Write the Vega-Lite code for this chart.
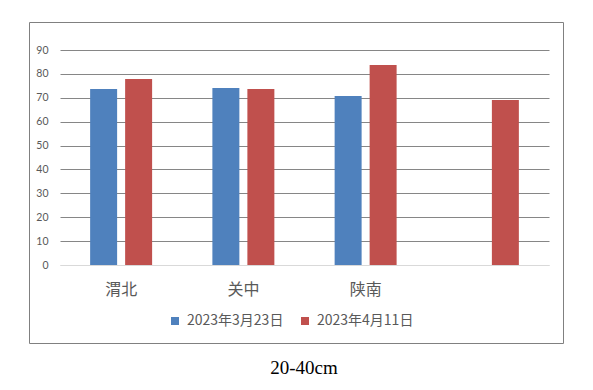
{
  "$schema": "https://vega.github.io/schema/vega-lite/v6.json",
  "autosize": {"type": "none"},
  "padding": {"left": 29, "top": 22, "right": 30, "bottom": 47},
  "width": 534,
  "height": 321,
  "background": "white",
  "config": {
    "view": {"stroke": "#808080", "strokeWidth": 1},
    "font": "Noto Sans CJK SC"
  },
  "title": {
    "text": "20-40cm",
    "orient": "bottom",
    "font": "Liberation Serif",
    "fontSize": 19,
    "fontWeight": "normal",
    "color": "#000000",
    "offset": 16,
    "dx": 8
  },
  "data": {
    "values": [
      {"region": "渭北", "date": "2023年3月23日", "value": 73.7},
      {"region": "渭北", "date": "2023年4月11日", "value": 77.9},
      {"region": "关中", "date": "2023年3月23日", "value": 74.1},
      {"region": "关中", "date": "2023年4月11日", "value": 73.7},
      {"region": "陕南", "date": "2023年3月23日", "value": 70.7},
      {"region": "陕南", "date": "2023年4月11日", "value": 83.7},
      {"region": " ", "date": "2023年4月11日", "value": 69.1}
    ]
  },
  "mark": {"type": "bar"},
  "encoding": {
    "x": {
      "field": "region",
      "type": "nominal",
      "sort": ["渭北", "关中", "陕南", " "],
      "scale": {"range": [31, 520], "paddingInner": 0.493, "paddingOuter": 0.2465},
      "axis": {
        "title": null,
        "orient": "bottom",
        "offset": -78,
        "ticks": false,
        "domain": true,
        "domainColor": "#D9D9D9",
        "labelAngle": 0,
        "labelFontSize": 16,
        "labelColor": "#595959",
        "labelFont": "Noto Sans CJK SC",
        "labelPadding": 16,
        "grid": false
      }
    },
    "xOffset": {
      "field": "date",
      "type": "nominal",
      "scale": {"paddingInner": 0.229, "paddingOuter": 0}
    },
    "y": {
      "field": "value",
      "type": "quantitative",
      "scale": {"domain": [0, 90], "range": [243, 28], "nice": false, "zero": true},
      "axis": {
        "title": null,
        "offset": -31,
        "values": [0, 10, 20, 30, 40, 50, 60, 70, 80, 90],
        "domain": false,
        "ticks": false,
        "labelFontSize": 10.5,
        "labelFont": "Lato",
        "labelColor": "#595959",
        "labelPadding": 12,
        "grid": true,
        "gridColor": {"condition": {"test": "datum.value === 0", "value": "#D9D9D9"}, "value": "#868686"},
        "gridWidth": 1
      }
    },
    "color": {
      "field": "date",
      "type": "nominal",
      "scale": {"domain": ["2023年3月23日", "2023年4月11日"], "range": ["#4F81BD", "#C0504D"]},
      "legend": {
        "title": null,
        "orient": "none",
        "direction": "horizontal",
        "legendX": 139,
        "legendY": 292,
        "symbolType": "square",
        "symbolSize": 64,
        "symbolStrokeWidth": 0,
        "labelFontSize": 14,
        "labelColor": "#595959",
        "labelFont": "Noto Sans CJK SC",
        "labelOffset": 5,
        "columnPadding": 14
      }
    }
  }
}
